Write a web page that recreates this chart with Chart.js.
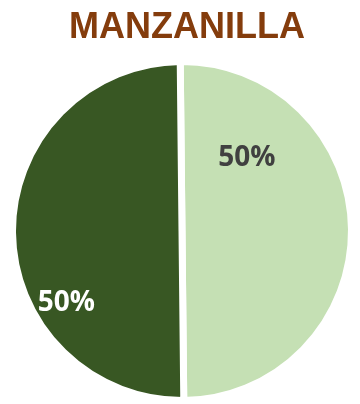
<!DOCTYPE html>
<html>
<head>
<meta charset="utf-8">
<script src="https://cdn.jsdelivr.net/npm/chart.js@4/dist/chart.umd.min.js"></script>
<style>
  html, body { margin: 0; padding: 0; background: #fff; }
  #wrap { width: 360px; height: 404px; }
</style>
</head>
<body>
<div id="wrap"><canvas id="myChart" width="360" height="404"></canvas></div>
<script>
// Chart data
let chartTitle = 'MANZANILLA';
let sliceNames = ['No', 'Sí'];
let sliceValues = [50, 50];
let sliceColors = ['#C5E0B4', '#385723'];
let labelColors = ['#404040', '#FFFFFF'];

// where each percent label sits: angle in degrees (canvas, clockwise from +x) and fraction of radius
let labelPlacement = [
  { angle: -48.3, radius: 0.576 },
  { angle: 147.9, radius: 0.805 }
];

// title drawn a little right of the canvas middle
let titleText = {
  id: 'titleText',
  afterDraw(chart) {
    let ctx = chart.ctx;
    ctx.save();
    ctx.font = 'bold 36px "Liberation Sans", Arial, sans-serif';
    ctx.fillStyle = '#843C0C';
    ctx.textAlign = 'center';
    ctx.textBaseline = 'alphabetic';
    ctx.fillText(chartTitle, 187, 38);
    ctx.restore();
  }
};

// draws the percent text on each slice
let percentLabels = {
  id: 'percentLabels',
  afterDatasetsDraw(chart) {
    let ctx = chart.ctx;
    let meta = chart.getDatasetMeta(0);
    let total = sliceValues.reduce((a, b) => a + b, 0);
    ctx.save();
    ctx.font = 'bold 28px "Open Sans", sans-serif';
    ctx.textAlign = 'center';
    ctx.textBaseline = 'middle';
    meta.data.forEach((arc, i) => {
      let p = arc.getProps(['x', 'y', 'outerRadius'], true);
      let a = labelPlacement[i].angle * Math.PI / 180;
      let r = p.outerRadius * labelPlacement[i].radius;
      ctx.fillStyle = labelColors[i];
      let pct = Math.round(sliceValues[i] / total * 100) + '%';
      ctx.fillText(pct, p.x + Math.cos(a) * r, p.y + Math.sin(a) * r);
    });
    ctx.restore();
  }
};

let ctx = document.getElementById('myChart').getContext('2d');
let myChart = new Chart(ctx, {
  type: 'pie',
  data: {
    labels: sliceNames,
    datasets: [{
      data: sliceValues,
      backgroundColor: sliceColors,
      borderColor: '#FFFFFF',
      borderWidth: 7
    }]
  },
  options: {
    responsive: false,
    animation: false,
    rotation: -0.6,
    layout: { padding: { left: 9, right: 5, top: 58, bottom: 0 } },
    plugins: {
      legend: { display: false },
      tooltip: { enabled: false },
      title: { display: false }
    }
  },
  plugins: [percentLabels, titleText]
});
</script>
</body>
</html>
